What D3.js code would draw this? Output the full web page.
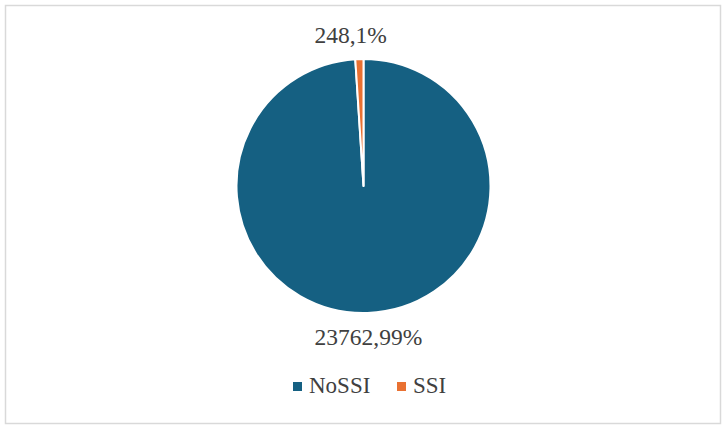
<!DOCTYPE html>
<html>
<head>
<meta charset="utf-8">
<script src="https://cdn.jsdelivr.net/npm/d3@7/dist/d3.min.js"></script>
<style>
  html, body { margin: 0; padding: 0; background: #ffffff; }
  svg { display: block; }
</style>
</head>
<body>
<svg id="chart" width="725" height="428"></svg>
<script>
const categories = ["NoSSI", "SSI"];
const values = [23762, 248];
const percentLabels = ["99%", "1%"];
const colors = ["#156082", "#E97132"];

const W = 725, H = 428;
const svg = d3.select("#chart");
const textColor = "#404040";
const fontFam = '"Liberation Serif", monospace';

// chart border
svg.append("rect")
  .attr("x", 5.5).attr("y", 5.5)
  .attr("width", 715).attr("height", 418)
  .attr("fill", "#ffffff")
  .attr("stroke", "#d9d9d9")
  .attr("stroke-width", 1.5);

const cx = 363.5, cy = 186, r = 127;
const data = categories.map((c, i) => ({ name: c, value: values[i], pct: percentLabels[i], color: colors[i] }));

const pie = d3.pie().value(d => d.value).sort(null);
const arcs = pie(data);
const arc = d3.arc().innerRadius(0).outerRadius(r);
const labelArc = d3.arc().innerRadius(r + 24).outerRadius(r + 24);

const g = svg.append("g").attr("transform", `translate(${cx},${cy})`);

g.selectAll("path.slice")
  .data(arcs)
  .join("path")
  .attr("class", "slice")
  .attr("d", arc)
  .attr("fill", d => d.data.color)
  .attr("stroke", "#ffffff")
  .attr("stroke-width", 2)
  .attr("stroke-linejoin", "round");

const labelShift = [0, -8];
g.selectAll("text.lbl")
  .data(arcs)
  .join("text")
  .attr("class", "lbl")
  .attr("x", (d, i) => labelArc.centroid(d)[0] + labelShift[i])
  .attr("y", d => labelArc.centroid(d)[1])
  .attr("dy", "0.35em")
  .attr("text-anchor", "middle")
  .style("font-family", fontFam)
  .style("font-size", "23.5px")
  .attr("fill", textColor)
  .text(d => `${d.data.value},${d.data.pct}`);

// legend
const legend = svg.append("g");
const legendX = [293, 397];
const legendY = 393;
data.forEach((d, i) => {
  legend.append("rect")
    .attr("x", legendX[i]).attr("y", legendY - 11)
    .attr("width", 9).attr("height", 9)
    .attr("fill", d.color);
  legend.append("text")
    .attr("x", legendX[i] + 16).attr("y", legendY)
    .style("font-family", fontFam)
    .style("font-size", "23px")
    .attr("fill", textColor)
    .text(d.name);
});
</script>
</body>
</html>
